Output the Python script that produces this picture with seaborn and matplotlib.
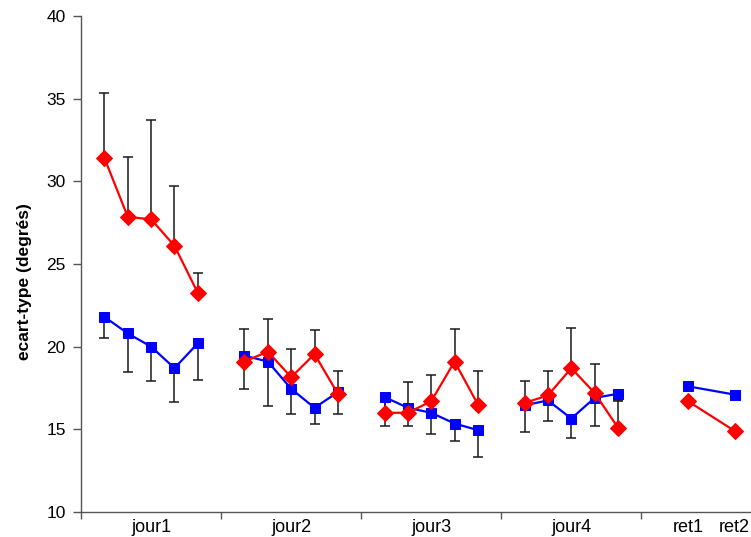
import numpy as np
import pandas as pd
import seaborn as sns
import matplotlib.pyplot as plt

# groups of sessions and their positions on the category axis
groups = ['jour1', 'jour2', 'jour3', 'jour4', 'ret']
positions = [[1, 2, 3, 4, 5], [7, 8, 9, 10, 11], [13, 14, 15, 16, 17],
             [19, 20, 21, 22, 23], [26, 28]]

# red series (diamonds) with upper error bars
red_vals = [[31.4, 27.85, 27.7, 26.1, 23.25],
            [19.1, 19.7, 18.15, 19.55, 17.15],
            [16.0, 16.0, 16.7, 19.1, 16.5],
            [16.6, 17.05, 18.7, 17.2, 15.1],
            [16.7, 14.9]]
red_top = [[35.35, 31.45, 33.7, 29.7, 24.45],
           [21.05, 21.7, 19.85, 21.0, 18.5],
           [16.9, 17.85, 18.3, 21.05, 18.5],
           [17.95, 18.5, 21.15, 18.95, 16.75],
           [None, None]]

# blue series (squares) with lower error bars
blue_vals = [[21.8, 20.8, 20.0, 18.7, 20.2],
             [19.45, 19.1, 17.45, 16.3, 17.25],
             [16.95, 16.3, 16.0, 15.35, 14.95],
             [16.45, 16.75, 15.65, 16.9, 17.15],
             [17.6, 17.1]]
blue_bot = [[20.55, 18.45, 17.9, 16.65, 18.0],
            [17.45, 16.4, 15.9, 15.3, 15.95],
            [15.2, 15.2, 14.7, 14.3, 13.35],
            [14.85, 15.5, 14.45, 15.2, 16.7],
            [None, None]]

tick_pos = [3, 9, 15, 21, 26, 28]
tick_labels = ['jour1', 'jour2', 'jour3', 'jour4', 'ret1', 'ret2']

sns.set_style('ticks')
plt.rcParams['font.family'] = ['Liberation Sans', 'DejaVu Sans']

fig = plt.figure(figsize=(7.51, 5.37), dpi=100)
ax = fig.add_axes([0.108, 0.0466, 0.892, 0.9236])

for i, g in enumerate(groups):
    x = np.array(positions[i], dtype=float)
    rv = np.array(red_vals[i])
    bv = np.array(blue_vals[i])
    if red_top[i][0] is not None:
        up = np.array(red_top[i]) - rv
        ax.errorbar(x, rv, yerr=[np.zeros_like(up), up], fmt='none',
                    ecolor='#1a1a1a', elinewidth=1.1, capsize=3.5, capthick=1.1, zorder=1)
        dn = bv - np.array(blue_bot[i])
        ax.errorbar(x, bv, yerr=[dn, np.zeros_like(dn)], fmt='none',
                    ecolor='#1a1a1a', elinewidth=1.1, capsize=3.5, capthick=1.1, zorder=1)
    df = pd.DataFrame({'x': x, 'red': rv, 'blue': bv})
    sns.lineplot(data=df, x='x', y='blue', color='#0000FF', marker='s',
                 markersize=6.5, markeredgecolor='#0000FF', linewidth=1.6,
                 ax=ax, zorder=3)
    sns.lineplot(data=df, x='x', y='red', color='#FF0000', marker='D',
                 markersize=8, markeredgecolor='#FF0000', linewidth=1.6,
                 ax=ax, zorder=4)

ax.set_xlim(0, 28.7)
ax.set_ylim(10, 40)
ax.set_yticks(range(10, 41, 5))
ax.set_xticks([0, 6, 12, 18, 24])
ax.set_xticklabels([])
ax.set_xticks(tick_pos, minor=True)
ax.set_xticklabels(tick_labels, minor=True)
ax.tick_params(axis='x', which='major', direction='out', length=5, width=1, color='#555555')
ax.tick_params(axis='x', which='minor', length=0, labelsize=13, labelcolor='black', pad=5)
ax.tick_params(axis='y', direction='out', length=6, width=1, color='#555555',
               labelsize=12.5, labelcolor='black', pad=5)

for s in ['top', 'right']:
    ax.spines[s].set_visible(False)
for s in ['left', 'bottom']:
    ax.spines[s].set_color('#555555')
    ax.spines[s].set_linewidth(1)

ax.set_xlabel('')
ax.set_ylabel('ecart-type (degrés)', fontsize=12.5, fontweight='bold', color='black')
ax.yaxis.set_label_coords(-0.073, 0.464)

fig.savefig('out.png', dpi=100)
